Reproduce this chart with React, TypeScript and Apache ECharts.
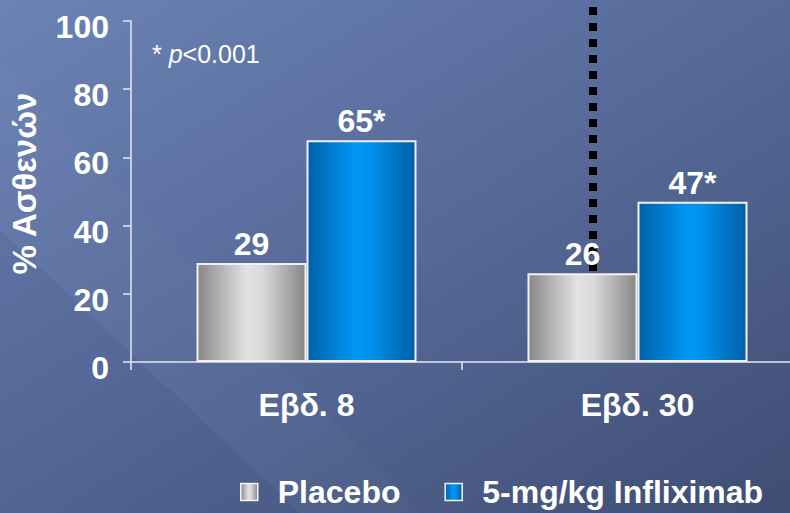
import React, { useEffect, useRef } from "react";
import * as echarts from "echarts";

const categories = ["Εβδ. 8", "Εβδ. 30"];
const placebo = [29, 26];
const infliximab = [65, 47];
const placeboLabels = ["29", "26"];
const infliximabLabels = ["65*", "47*"];
const yTicks = { min: 0, max: 100, interval: 20 };
const seriesNames = ["Placebo", "5-mg/kg Infliximab"];

const FONT = "Liberation Sans, Arial, sans-serif";
const FS = 32;

export default function App() {
  const ref = useRef<HTMLDivElement>(null);
  useEffect(() => {
    if (!ref.current) return;
    const chart = echarts.init(ref.current, null, { renderer: "svg" });
    const grayGrad = new echarts.graphic.LinearGradient(0, 0, 1, 0, [
      { offset: 0, color: "#888888" },
      { offset: 0.45, color: "#e2e2e2" },
      { offset: 0.6, color: "#dadada" },
      { offset: 1, color: "#878787" },
    ]);
    const blueGrad = new echarts.graphic.LinearGradient(0, 0, 1, 0, [
      { offset: 0, color: "#005fa8" },
      { offset: 0.45, color: "#0098f5" },
      { offset: 0.6, color: "#0090ea" },
      { offset: 1, color: "#005ea6" },
    ]);
    const axisColor = "#e6e8f0";
    const option: any = {
      animation: false,
      backgroundColor: new echarts.graphic.LinearGradient(0, 0, 1, 1, [
        { offset: 0, color: "#6b83b5" },
        { offset: 0.4, color: "#5a6e9e" },
        { offset: 1, color: "#3e4c72" },
      ]),
      textStyle: { fontFamily: FONT },
      grid: [
        { left: 131, top: 21, width: 662, height: 341 },
        { left: 141, top: 21, width: 662, height: 341 },
      ],
      legend: {
        data: seriesNames,
        left: 235,
        bottom: 0,
        icon: "rect",
        itemWidth: 17,
        itemHeight: 17,
        itemGap: 44,
        itemStyle: { borderColor: "#f2f2f2", borderWidth: 1.5 },
        textStyle: {
          color: "#ffffff",
          fontSize: FS,
          fontWeight: "bold",
          fontFamily: FONT,
          padding: [0, 0, 0, 15],
        },
      },
      xAxis: [
        {
          type: "category",
          gridIndex: 0,
          data: categories,
          axisLine: { lineStyle: { color: axisColor, width: 1.5 } },
          axisTick: { show: true, length: 8, lineStyle: { color: axisColor, width: 1.5 } },
          axisLabel: { show: false },
        },
        {
          type: "category",
          gridIndex: 1,
          data: categories,
          axisLine: { show: false },
          axisTick: { show: false },
          axisLabel: {
            color: "#ffffff",
            fontSize: FS,
            fontWeight: "bold",
            fontFamily: FONT,
            margin: 27,
          },
        },
      ],
      yAxis: [
        {
          type: "value",
          gridIndex: 0,
          min: yTicks.min,
          max: yTicks.max,
          interval: yTicks.interval,
          name: "% Ασθενών",
          nameLocation: "middle",
          nameGap: 90,
          nameRotate: 90,
          nameTextStyle: {
            color: "#ffffff",
            fontSize: 33,
            fontWeight: "bold",
            fontFamily: FONT,
            padding: [0, 0, 0, 16],
          },
          axisLine: { show: true, lineStyle: { color: axisColor, width: 1.5 } },
          axisTick: { show: true, length: 8, lineStyle: { color: axisColor, width: 1.5 } },
          splitLine: { show: false },
          axisLabel: {
            margin: 22,
            formatter: "{v|{value}}",
            rich: {
              v: {
                color: "#ffffff",
                fontSize: FS,
                fontWeight: "bold",
                fontFamily: FONT,
                padding: [12, 0, 0, 0],
              },
            },
          },
        },
        {
          type: "value",
          gridIndex: 1,
          min: yTicks.min,
          max: yTicks.max,
          interval: yTicks.interval,
          show: false,
          splitLine: { show: false },
        },
      ],
      series: [
        {
          name: seriesNames[0],
          type: "bar",
          xAxisIndex: 1,
          yAxisIndex: 1,
          data: placebo,
          barWidth: 110,
          barGap: "0%",
          itemStyle: { color: grayGrad, borderColor: "#f2f2f2", borderWidth: 2 },
          label: {
            show: true,
            position: "top",
            distance: 3,
            color: "#ffffff",
            fontSize: FS,
            fontWeight: "bold",
            fontFamily: FONT,
            formatter: (p: any) => placeboLabels[p.dataIndex],
          },
        },
        {
          name: seriesNames[1],
          type: "bar",
          xAxisIndex: 1,
          yAxisIndex: 1,
          data: infliximab,
          barWidth: 110,
          barGap: "0%",
          itemStyle: { color: blueGrad, borderColor: "#f2f2f2", borderWidth: 2 },
          label: {
            show: true,
            position: "top",
            distance: 3,
            color: "#ffffff",
            fontSize: FS,
            fontWeight: "bold",
            fontFamily: FONT,
            formatter: (p: any) => infliximabLabels[p.dataIndex],
          },
        },
      ],
      graphic: [
        {
          type: "polygon",
          z: -10,
          silent: true,
          shape: { points: [[0, 230], [300, 513], [0, 513]] },
          style: { fill: "rgba(20,30,70,0.05)" },
        },
        {
          type: "polygon",
          z: -10,
          silent: true,
          shape: { points: [[0, 60], [0, 230], [300, 513], [420, 513]] },
          style: { fill: "rgba(255,255,255,0.02)" },
        },
        {
          type: "text",
          left: 152,
          top: 41,
          style: {
            text: "{a|* }{i|p}{a|<0.001}",
            fill: "#ffffff",
            font: "25px " + FONT,
            rich: {
              a: { fontSize: 25, fill: "#ffffff", fontFamily: FONT },
              i: { fontSize: 25, fill: "#ffffff", fontStyle: "italic", fontFamily: FONT },
            },
          },
        },
        {
          type: "line",
          z: 1,
          shape: { x1: 593, y1: 7, x2: 593, y2: 271 },
          style: { stroke: "#000000", lineWidth: 8, lineDash: [8, 8] },
        },
      ],
    };
    chart.setOption(option);
    return () => chart.dispose();
  }, []);
  return (
    <div
      style={{ position: "fixed", left: 0, top: 0, width: 790, height: 513, overflow: "hidden" }}
    >
      <div ref={ref} style={{ width: 830, height: 513 }} />
    </div>
  );
}
